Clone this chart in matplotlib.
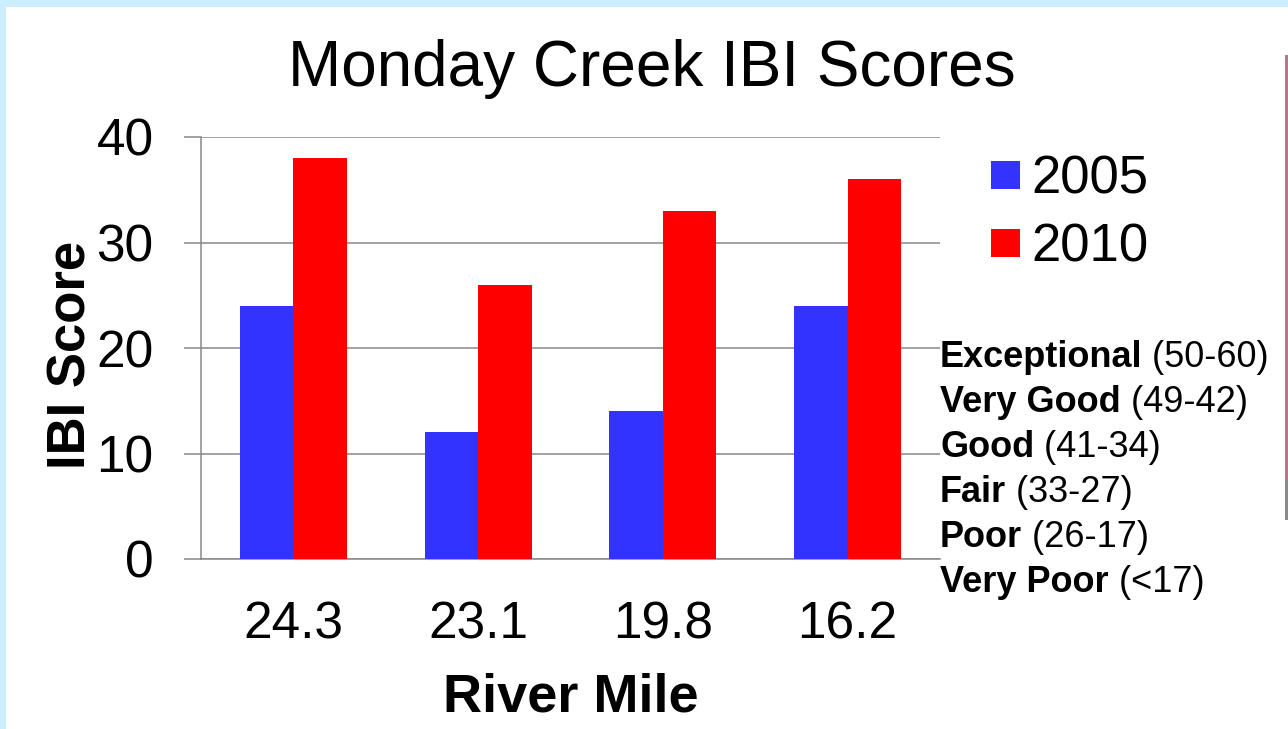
import numpy as np
import matplotlib.pyplot as plt
from matplotlib.patches import Rectangle

plt.rcParams['font.family'] = ['Liberation Sans', 'DejaVu Sans']

# Datos del gráfico
millas = ['24.3', '23.1', '19.8', '16.2']
anios = ['2005', '2010']
ibi_2005 = [24, 12, 14, 24]
ibi_2010 = [38, 26, 33, 36]
colores = ['#3333FF', '#FF0000']

categorias = ['Exceptional', 'Very Good', 'Good', 'Fair', 'Poor', 'Very Poor']
rangos = ['(50-60)', '(49-42)', '(41-34)', '(33-27)', '(26-17)', '(<17)']

W, H = 1288, 729


def fx(px):
    return px / W


def fy(py):
    return 1 - py / H


fig = plt.figure(figsize=(W / 100, H / 100), dpi=100)
fig.patch.set_facecolor('#CCEEFF')
fig.add_artist(Rectangle((fx(6), 0), 1 - fx(6), fy(7), transform=fig.transFigure,
                         facecolor='white', edgecolor='none', zorder=0))
# tira decorativa en el borde derecho
fig.add_artist(Rectangle((fx(1285), fy(480)), fx(3), fy(55) - fy(480), transform=fig.transFigure,
                         facecolor='#B07A88', edgecolor='none', zorder=0))
fig.add_artist(Rectangle((fx(1285), fy(520)), fx(3), fy(480) - fy(520), transform=fig.transFigure,
                         facecolor='#8A8A8A', edgecolor='none', zorder=0))

ax = fig.add_axes([fx(201), fy(559), fx(940 - 201), fy(137) - fy(559)])
ax.set_facecolor('none')

x = np.arange(len(millas))
w = 0.29
ax.bar(x - w / 2, ibi_2005, w, color=colores[0], zorder=3)
ax.bar(x + w / 2, ibi_2010, w, color=colores[1], zorder=3)

ax.set_xlim(-0.5, len(millas) - 0.5)
ax.set_ylim(0, 40)
ax.set_yticks([0, 10, 20, 30, 40])
ax.set_xticks(x)
ax.set_xticklabels(millas)
ax.yaxis.grid(True, color='#888888', linewidth=1.1, zorder=0)
ax.set_axisbelow(True)

for s in ['top', 'right']:
    ax.spines[s].set_visible(False)
for s in ['left', 'bottom']:
    ax.spines[s].set_color('#888888')
    ax.spines[s].set_linewidth(1.1)

ax.tick_params(axis='y', length=12.2, width=1.1, color='#888888', labelsize=37, pad=22)
ax.tick_params(axis='x', length=0, labelsize=37, pad=30)

# Títulos
fig.text(fx(652), fy(86), 'Monday Creek IBI Scores', ha='center', va='baseline', fontsize=46)
fig.text(fx(46), fy(355), 'IBI Score', rotation=90, ha='left', va='center',
         fontsize=38, fontweight='bold')
fig.text(fx(571), fy(712), 'River Mile', ha='center', va='baseline',
         fontsize=39, fontweight='bold')

# Leyenda
ley_y = [161, 229]
for i, anio in enumerate(anios):
    fig.add_artist(Rectangle((fx(991), fy(ley_y[i] + 28)), fx(29), fy(ley_y[i]) - fy(ley_y[i] + 28),
                             transform=fig.transFigure, facecolor=colores[i], edgecolor='none'))
    fig.text(fx(1031), fy(ley_y[i] + 32), anio, ha='left', va='baseline', fontsize=38)

# Escala de categorías IBI
for i, (cat, rango) in enumerate(zip(categorias, rangos)):
    t = fig.text(fx(940), fy(367 + 45 * i), cat, ha='left', va='baseline',
                 fontsize=26, fontweight='bold')
    ax.annotate(' ' + rango, xy=(1, 0), xycoords=t, ha='left', va='bottom',
                fontsize=26, annotation_clip=False)

fig.savefig('out.png', dpi=100, facecolor=fig.get_facecolor())
